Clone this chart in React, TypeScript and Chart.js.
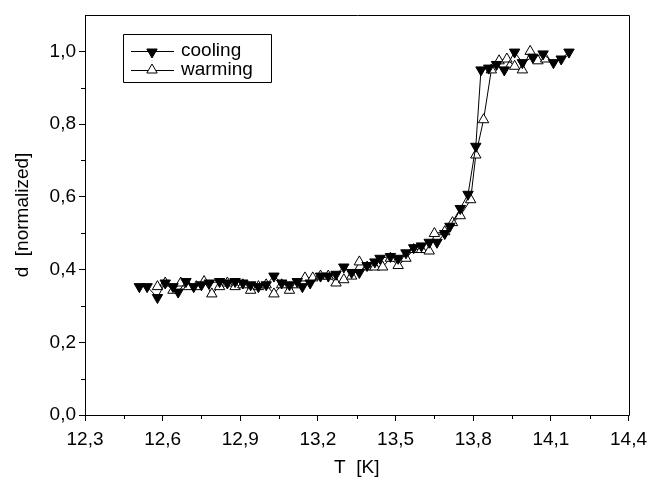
import React, { useEffect, useRef } from "react";
import { Chart, registerables } from "chart.js";

Chart.register(...registerables);

// Cooling (filled ▼): temperature [K] and normalized d
const coolingT = [12.51, 12.54, 12.58, 12.61, 12.64, 12.66, 12.69, 12.72, 12.75, 12.78, 12.82, 12.85, 12.88, 12.91, 12.94, 12.97, 13.0, 13.03, 13.06, 13.09, 13.12, 13.14, 13.17, 13.21, 13.24, 13.27, 13.3, 13.33, 13.36, 13.39, 13.42, 13.44, 13.48, 13.51, 13.54, 13.57, 13.6, 13.63, 13.66, 13.69, 13.71, 13.75, 13.78, 13.81, 13.83, 13.86, 13.89, 13.92, 13.96, 13.99, 14.03, 14.07, 14.11, 14.14, 14.17];
const coolingD = [0.353, 0.353, 0.323, 0.363, 0.353, 0.338, 0.367, 0.353, 0.358, 0.363, 0.367, 0.363, 0.367, 0.363, 0.358, 0.353, 0.358, 0.382, 0.363, 0.358, 0.367, 0.353, 0.363, 0.382, 0.382, 0.387, 0.407, 0.392, 0.392, 0.411, 0.421, 0.431, 0.436, 0.431, 0.446, 0.46, 0.465, 0.475, 0.475, 0.499, 0.519, 0.568, 0.607, 0.739, 0.949, 0.954, 0.964, 0.949, 0.998, 0.969, 0.984, 0.993, 0.969, 0.979, 0.998];

// Warming (open △)
const warmingT = [12.58, 12.61, 12.64, 12.67, 12.7, 12.73, 12.76, 12.79, 12.82, 12.85, 12.88, 12.91, 12.94, 12.97, 13.0, 13.03, 13.06, 13.09, 13.12, 13.15, 13.18, 13.21, 13.24, 13.27, 13.3, 13.33, 13.36, 13.39, 13.42, 13.45, 13.48, 13.51, 13.54, 13.57, 13.6, 13.63, 13.65, 13.69, 13.72, 13.75, 13.79, 13.81, 13.84, 13.87, 13.9, 13.93, 13.96, 13.99, 14.02, 14.05, 14.08];
const warmingD = [0.353, 0.363, 0.343, 0.363, 0.353, 0.353, 0.367, 0.333, 0.353, 0.363, 0.353, 0.358, 0.343, 0.353, 0.358, 0.333, 0.358, 0.343, 0.358, 0.377, 0.377, 0.382, 0.382, 0.363, 0.372, 0.382, 0.421, 0.407, 0.407, 0.407, 0.431, 0.411, 0.431, 0.455, 0.455, 0.451, 0.499, 0.504, 0.529, 0.548, 0.592, 0.715, 0.812, 0.949, 0.974, 0.979, 0.959, 0.949, 1.0, 0.974, 0.979];

const xTicks = [12.3, 12.6, 12.9, 13.2, 13.5, 13.8, 14.1, 14.4];
const yTicks = [0.0, 0.2, 0.4, 0.6, 0.8, 1.0];
const seriesNames = ["cooling", "warming"];
const xTitle = "T  [K]";
const yTitle = "d  [normalized]";

const FONT = "'Liberation Sans', Arial, sans-serif";
const fmt = (v: number) => v.toFixed(1).replace(".", ",");

function triangle(ctx: CanvasRenderingContext2D, x: number, y: number, r: number, down: boolean, fill: string) {
  const s = down ? -1 : 1;
  ctx.beginPath();
  ctx.moveTo(x, y - s * r);
  ctx.lineTo(x + r * 0.866, y + s * r * 0.5);
  ctx.lineTo(x - r * 0.866, y + s * r * 0.5);
  ctx.closePath();
  ctx.fillStyle = fill;
  ctx.fill();
  ctx.stroke();
}

const framePlugin = {
  id: "frameAndMinor",
  afterDraw(chart: any) {
    const { ctx, chartArea } = chart;
    const { left, right, top, bottom } = chartArea;
    const xs = chart.scales.x;
    const ys = chart.scales.y;
    ctx.save();
    ctx.strokeStyle = "#000";
    ctx.lineWidth = 1;
    ctx.beginPath();
    ctx.rect(Math.round(left) + 0.5, Math.round(top) + 0.5, Math.round(right - left), Math.round(bottom - top));
    ctx.stroke();
    // minor ticks
    ctx.beginPath();
    for (let i = 0; i < xTicks.length - 1; i++) {
      const v = (xTicks[i] + xTicks[i + 1]) / 2;
      const px = Math.round(xs.getPixelForValue(v)) + 0.5;
      ctx.moveTo(px, bottom);
      ctx.lineTo(px, bottom + 4);
    }
    for (let i = 0; i < yTicks.length - 1; i++) {
      const v = (yTicks[i] + yTicks[i + 1]) / 2;
      const py = Math.round(ys.getPixelForValue(v)) + 0.5;
      ctx.moveTo(left, py);
      ctx.lineTo(left - 4, py);
    }
    ctx.stroke();

    // legend
    const bx = left + 38;
    const by = top + 19;
    const bw = 148;
    const bh = 48;
    ctx.beginPath();
    ctx.rect(Math.round(bx) + 0.5, Math.round(by) + 0.5, bw, bh);
    ctx.fillStyle = "#fff";
    ctx.fill();
    ctx.stroke();
    ctx.font = `19px ${FONT}`;
    ctx.textBaseline = "middle";
    ctx.textAlign = "left";
    seriesNames.forEach((name, i) => {
      const cy = by + 17 + i * 19;
      ctx.beginPath();
      ctx.moveTo(bx + 8, cy + 0.5);
      ctx.lineTo(bx + 51, cy + 0.5);
      ctx.stroke();
      const ds = chart.data.datasets[i];
      triangle(ctx, bx + 29, cy + (i === 0 ? 1 : 0), 6, i === 0, ds.pointBackgroundColor);
      ctx.fillStyle = "#000";
      ctx.fillText(name, bx + 58, cy);
    });
    ctx.restore();
  },
};

export default function App() {
  const ref = useRef<HTMLCanvasElement>(null);
  useEffect(() => {
    const canvas = ref.current!;
    const chart = new Chart(canvas, {
      type: "line",
      data: {
        datasets: [
          {
            label: seriesNames[0],
            data: coolingT.map((t, i) => ({ x: t, y: coolingD[i] })),
            borderColor: "#000",
            borderWidth: 1,
            pointStyle: "triangle",
            pointRotation: 180,
            pointRadius: 6,
            pointBackgroundColor: "#000",
            pointBorderColor: "#000",
            pointBorderWidth: 1,
            tension: 0,
          },
          {
            label: seriesNames[1],
            data: warmingT.map((t, i) => ({ x: t, y: warmingD[i] })),
            borderColor: "#000",
            borderWidth: 1,
            pointStyle: "triangle",
            pointRotation: 0,
            pointRadius: 6,
            pointBackgroundColor: "#fff",
            pointBorderColor: "#000",
            pointBorderWidth: 1,
            tension: 0,
          },
        ],
      },
      options: {
        animation: false,
        responsive: false,
        layout: { padding: { top: 15, right: 24, left: 0, bottom: 0 } },
        plugins: { legend: { display: false }, tooltip: { enabled: false } },
        scales: {
          x: {
            type: "linear",
            min: 12.3,
            max: 14.4,
            afterBuildTicks: (s: any) => {
              s.ticks = xTicks.map((v) => ({ value: v }));
            },
            afterFit: (s: any) => {
              s.height = 65;
            },
            ticks: {
              color: "#000",
              font: { family: FONT, size: 19 },
              padding: 7,
              maxRotation: 0,
              autoSkip: false,
              callback: (v: any) => fmt(Number(v)),
            },
            grid: { drawOnChartArea: false, tickLength: 6, color: "#000", tickWidth: 1 },
            border: { color: "#000", width: 1 },
            title: { display: true, text: xTitle, color: "#000", font: { family: FONT, size: 19 }, padding: { top: 0, bottom: 1 } },
          },
          y: {
            type: "linear",
            min: 0,
            max: 1.1,
            afterBuildTicks: (s: any) => {
              s.ticks = yTicks.map((v) => ({ value: v }));
            },
            afterFit: (s: any) => {
              s.width = 85;
            },
            ticks: {
              color: "#000",
              font: { family: FONT, size: 19 },
              padding: 3,
              autoSkip: false,
              callback: (v: any) => fmt(Number(v)),
            },
            grid: { drawOnChartArea: false, tickLength: 6, color: "#000", tickWidth: 1 },
            border: { color: "#000", width: 1 },
            title: { display: true, text: yTitle, color: "#000", font: { family: FONT, size: 19 }, padding: { top: 11, bottom: 4 } },
          },
        },
      },
      plugins: [framePlugin],
    } as any);
    return () => chart.destroy();
  }, []);
  return (
    <div style={{ position: "fixed", left: 0, top: 0, width: 654, height: 480, background: "#fff" }}>
      <canvas ref={ref} width={654} height={480} style={{ display: "block" }} />
    </div>
  );
}
